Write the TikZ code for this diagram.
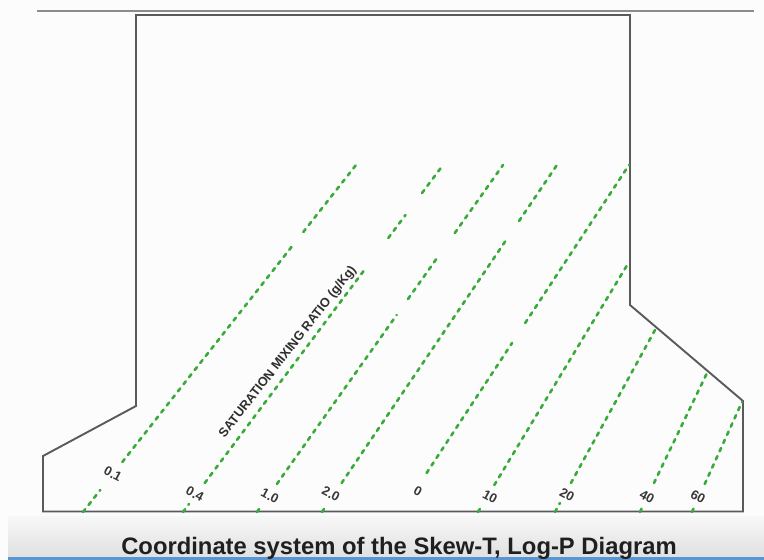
\documentclass[tikz,border=0pt]{standalone}
\usepackage{fontspec}
\setmainfont{Liberation Sans}
\usetikzlibrary{calc}
\definecolor{mixgreen}{RGB}{58,170,58}
\definecolor{frame}{RGB}{90,90,90}
\definecolor{stripblue}{RGB}{90,150,210}
\tikzset{
  mixdash/.style={draw=mixgreen, line width=2.6pt, line cap=round,
                  dash pattern=on 3.6pt off 5.4pt},
  outline/.style={draw=frame, line width=1.9pt, line join=miter},
  ratiolbl/.style={font=\bfseries\fontsize{13}{13}\selectfont, text=black!78,
                   rotate=-28, inner sep=0pt},
}
% one dashed piece of a mixing-ratio line: base x, top x, top y, from y, to y
\newcommand\mixseg[5]{%
  \draw[mixdash] ({#1+(512-#4)/(512-#3)*(#2-#1)},#4) --
                 ({#1+(512-#5)/(512-#3)*(#2-#1)},#5);}
\begin{document}
\begin{tikzpicture}[x=1pt,y=-1pt]
\useasboundingbox (0,0) rectangle (764,560);
\fill[white!99!black] (0,0) rectangle (764,560);
% caption strip
\shade[top color=white!97!black, bottom color=white!88!black] (8,516) rectangle (764,557);
\fill[stripblue] (8,557) rectangle (764,560);

% top pressure line and diagram outline
\draw[draw=black!45, line width=1.8pt] (37,11) -- (754,11);
\draw[outline] (136,15) -- (630,15) -- (630,305) -- (743,401) -- (743,511.5)
  -- (43,511.5) -- (43,456) -- (136,406) -- cycle;

% mixing-ratio lines
% 0.1
\mixseg{83}{356}{165}{512}{490}
\mixseg{83}{356}{165}{462}{246}
\mixseg{83}{356}{165}{232}{165}
% 0.4
\mixseg{183}{443}{165}{512}{504}
\mixseg{183}{443}{165}{483}{268}
\mixseg{183}{443}{165}{238}{215}
\mixseg{183}{443}{165}{193}{165}
% 1.0
\mixseg{257}{503}{165}{512}{505}
\mixseg{257}{503}{165}{484}{315}
\mixseg{257}{503}{165}{299}{256}
\mixseg{257}{503}{165}{233}{165}
% 2.0
\mixseg{322}{559}{162}{512}{505}
\mixseg{322}{559}{162}{483}{238}
\mixseg{322}{559}{162}{221}{162}
% 0
\mixseg{401}{629}{165}{473}{343}
\mixseg{401}{629}{165}{323}{165}
% 10
\mixseg{478}{629}{262}{512}{505}
\mixseg{478}{629}{262}{485}{262}
% 20
\mixseg{555}{655}{330}{512}{503}
\mixseg{555}{655}{330}{483}{330}
% 40
\mixseg{640}{707}{373}{512}{505}
\mixseg{640}{707}{373}{483}{373}
% 60
\mixseg{692}{742}{402}{512}{505}
\mixseg{692}{742}{402}{484}{402}

% line labels
\node[ratiolbl] (r01) at (113,474) {0.1};
\node[ratiolbl] (r04) at (195,494) {0.4};
\node[ratiolbl] (r10) at (270,496) {1.0};
\node[ratiolbl] (r20) at (331,494) {2.0};
\node[ratiolbl] (r0)  at (418,491) {0};
\node[ratiolbl] (r100) at (490,497) {10};
\node[ratiolbl] (r200) at (567,495) {20};
\node[ratiolbl] (r400) at (647,497) {40};
\node[ratiolbl] (r600) at (698,497) {60};

\node[font=\bfseries\fontsize{12.8}{12.8}\selectfont, text=black!82, rotate=52,
      inner sep=0pt] (axis) at (288,352) {SATURATION MIXING RATIO (g/Kg)};

% caption
\node[font=\bfseries\fontsize{23.8}{23.8}\selectfont, text=black!88, anchor=base]
  (caption) at (399,554) {Coordinate system of the Skew-T, Log-P Diagram};
\end{tikzpicture}
\end{document}
